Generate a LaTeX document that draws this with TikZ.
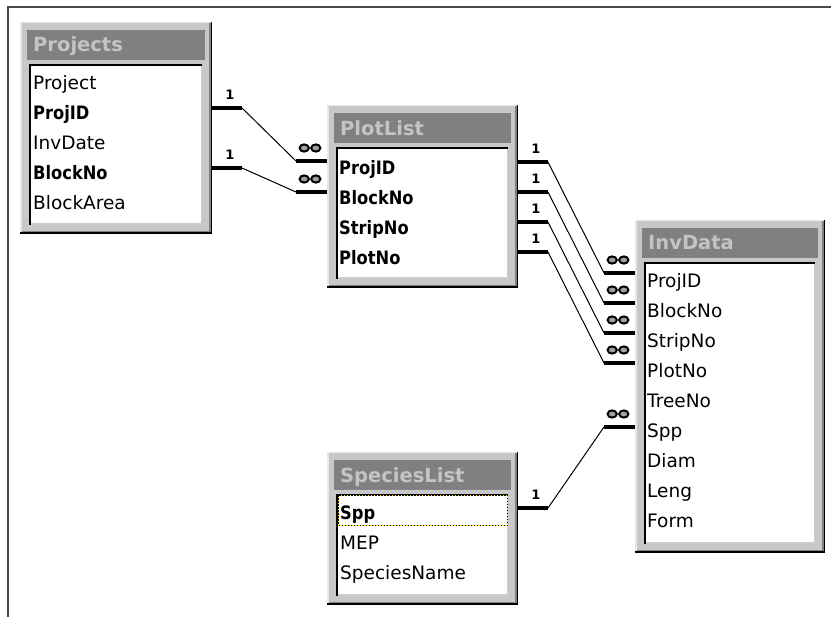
\documentclass[tikz,border=0pt]{standalone}
\usepackage{fontspec}
\setmainfont{DejaVu Sans}
\newfontfamily\boldfield{DejaVu Sans}[FakeStretch=0.88]
\usetikzlibrary{calc}
\definecolor{framegray}{HTML}{C8C8C8}
\definecolor{framelight}{HTML}{E8E8E8}
\definecolor{shadowgray}{HTML}{808080}
\definecolor{titlegray}{HTML}{808080}
\definecolor{titletext}{HTML}{C4C4C4}
\definecolor{borderline}{HTML}{484848}
\definecolor{manyfill}{HTML}{A0A0A0}
\tikzset{
  field/.style={anchor=base west, inner sep=0pt, font=\fontsize{18.5}{20}\selectfont, text=black},
  keyfield/.style={field, font=\fontsize{18.5}{20}\selectfont\boldfield\bfseries},
  tabtitle/.style={anchor=base west, inner sep=0pt, font=\fontsize{19.5}{21}\selectfont\bfseries, text=titletext},
  thickend/.style={line width=4pt, line cap=butt},
  link/.style={line width=1pt},
  onelabel/.style={inner sep=0pt, font=\fontsize{13}{14}\selectfont\bfseries},
  many/.pic={
    \draw[line width=2pt, fill=manyfill] (-5.8,0) ellipse (4.6 and 3.6);
    \draw[line width=2pt, fill=manyfill] (5.8,0) ellipse (4.6 and 3.6);
  }
}
% #1 name, #2 x0, #3 y0, #4 x1, #5 y1, #6 title, #7 title baseline
\newcommand\dbtable[7]{%
  \node[fill=framegray, inner sep=0pt, outer sep=0pt, anchor=north west,
        minimum width={#4-#2}, minimum height={#5-#3}] (#1) at (#2,#3) {};
  \draw[framelight, line width=1.5pt] (#2+0.75,#5) -- (#2+0.75,#3+0.75) -- (#4,#3+0.75);
  \draw[black, line width=1.5pt] (#2,#5-0.75) -- (#4-0.75,#5-0.75) -- (#4-0.75,#3);
  \draw[shadowgray, line width=1.5pt] (#2+1.5,#5-2.25) -- (#4-2.25,#5-2.25) -- (#4-2.25,#3+1.5);
  \fill[titlegray] (#2+7,#3+8) rectangle (#4-7,#3+38);
  \node[tabtitle] (#1-title) at (#2+13,#7) {#6};
  \fill[white] (#2+9,#3+42) rectangle (#4-10,#5-9);
  \draw[shadowgray!40, line width=1.5pt] (#2+9,#5-9.75) -- (#4-10.75,#5-9.75) -- (#4-10.75,#3+42);
  \draw[black, line width=2pt] (#2+10,#5-9) -- (#2+10,#3+43) -- (#4-10,#3+43);
}
% #1 start (left table edge), #2 end (right table edge)
\newcommand\relation[2]{%
  \draw[thickend] (#1) -- ++(30,0) coordinate (#1-k);
  \draw[thickend] (#2) -- ++(-31,0) coordinate (#2-k);
  \draw[link] (#1-k) -- (#2-k);
  \node[onelabel] at ($(#1)+(18,-13)$) {1};
  \pic at ($(#2)+(-17,-13)$) {many};
}
\begin{document}
\begin{tikzpicture}[x=1pt, y=-1pt]
\useasboundingbox (0,0) rectangle (831,617);
\fill[white] (0,0) rectangle (831,617);
\draw[borderline, line width=2pt] (7.5,617) -- (7.5,7) -- (831,7);

% Projects
\dbtable{projects}{20}{22}{212}{234}{Projects}{52}
\node[field] (pj-project) at (33,90) {Project};
\node[keyfield] (pj-projid) at (33,120) {ProjID};
\node[field] (pj-invdate) at (33,150) {InvDate};
\node[keyfield] (pj-blockno) at (33,180) {BlockNo};
\node[field] (pj-blockarea) at (33,210) {BlockArea};

% PlotList
\dbtable{plotlist}{327}{105}{518}{288}{PlotList}{136}
\node[keyfield] (pl-projid) at (339,175) {ProjID};
\node[keyfield] (pl-blockno) at (339,205) {BlockNo};
\node[keyfield] (pl-stripno) at (339,235) {StripNo};
\node[keyfield] (pl-plotno) at (339,265) {PlotNo};

% InvData
\dbtable{invdata}{635}{220}{825}{553}{InvData}{250}
\node[field] (iv-projid) at (647,288) {ProjID};
\node[field] (iv-blockno) at (647,318) {BlockNo};
\node[field] (iv-stripno) at (647,348) {StripNo};
\node[field] (iv-plotno) at (647,378) {PlotNo};
\node[field] (iv-treeno) at (647,408) {TreeNo};
\node[field] (iv-spp) at (647,438) {Spp};
\node[field] (iv-diam) at (647,468) {Diam};
\node[field] (iv-leng) at (647,498) {Leng};
\node[field] (iv-form) at (647,528) {Form};

% SpeciesList
\dbtable{specieslist}{327}{452}{518}{605}{SpeciesList}{483}
\draw[yellow!85!orange, line width=1.2pt] (338.5,495.5) rectangle (507.5,525.5);
\draw[black, line width=1.2pt, dash pattern=on 1.5pt off 1.5pt] (338.5,495.5) rectangle (507.5,525.5);
\node[keyfield] (sl-spp) at (340,520) {Spp};
\node[field] (sl-mep) at (340,550) {MEP};
\node[field] (sl-speciesname) at (340,580) {SpeciesName};

% connector end points
\coordinate (r1a) at (projects.east |- 0,108);
\coordinate (r1b) at (plotlist.west |- 0,161);
\coordinate (r2a) at (projects.east |- 0,168);
\coordinate (r2b) at (plotlist.west |- 0,192);
\coordinate (r3a) at (plotlist.east |- 0,162);
\coordinate (r3b) at (invdata.west |- 0,273);
\coordinate (r4a) at (plotlist.east |- 0,192);
\coordinate (r4b) at (invdata.west |- 0,303);
\coordinate (r5a) at (plotlist.east |- 0,222);
\coordinate (r5b) at (invdata.west |- 0,333);
\coordinate (r6a) at (plotlist.east |- 0,252);
\coordinate (r6b) at (invdata.west |- 0,363);
\coordinate (r7a) at (specieslist.east |- 0,508);
\coordinate (r7b) at (invdata.west |- 0,427);

\relation{r1a}{r1b}
\relation{r2a}{r2b}
\relation{r3a}{r3b}
\relation{r4a}{r4b}
\relation{r5a}{r5b}
\relation{r6a}{r6b}
\relation{r7a}{r7b}
\end{tikzpicture}
\end{document}
